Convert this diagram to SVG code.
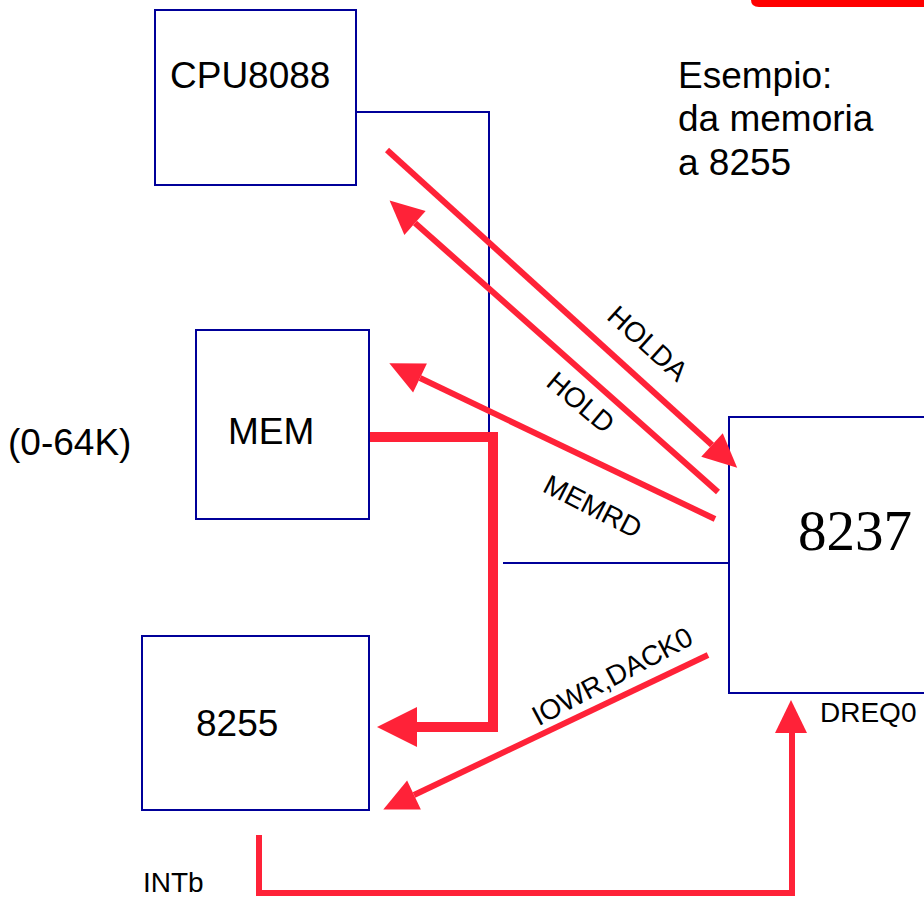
<svg xmlns="http://www.w3.org/2000/svg" width="924" height="900" viewBox="0 0 924 900">
<style>
.box{fill:#fff;stroke:#000099;stroke-width:2}
.bl{fill:none;stroke:#000099;stroke-width:2}
.rd{fill:none;stroke:#FF2238;stroke-width:6}
.t{font-family:"Liberation Sans",Arial,sans-serif;fill:#000}
.lbl{font-family:"Liberation Sans",Arial,sans-serif;font-size:28px;fill:#000;text-anchor:middle}
</style>
<defs>
<marker id="ah" markerUnits="userSpaceOnUse" markerWidth="40" markerHeight="40" refX="0" refY="16" orient="auto" overflow="visible">
<path d="M0,0 L34,16 L0,32 z" fill="#FF2238"/>
</marker>
</defs>
<rect width="924" height="900" fill="#fff"/>
<path d="M751,0 H924 V7 H759 Q751,7 751,0 z" fill="#FF0000"/>

<g id="cpu"><rect class="box" x="155" y="10" width="201" height="175"/><text class="t" x="170" y="88" font-size="37">CPU8088</text></g>
<g id="mem"><rect class="box" x="196" y="330" width="173" height="189"/><text class="t" x="228" y="444" font-size="37">MEM</text></g>
<g id="p8255"><rect class="box" x="142" y="636" width="227" height="174"/><text class="t" x="196" y="736" font-size="37">8255</text></g>
<g id="dma"><rect class="box" x="729" y="417" width="200" height="276"/><text x="798" y="550" font-family="'Liberation Serif','Times New Roman',serif" font-size="57">8237</text></g>

<g id="notes">
<text class="t" x="678" y="88" font-size="37">Esempio:</text>
<text class="t" x="678" y="131" font-size="37">da memoria</text>
<text class="t" x="678" y="175" font-size="37">a 8255</text>
<text class="t" x="8" y="455" font-size="37">(0-64K)</text>
<text class="t" x="820" y="722" font-size="28">DREQ0</text>
<text class="t" x="143" y="892" font-size="28">INTb</text>
</g>

<g id="connectors">
<path class="bl" d="M356,112 H489 V446"/>
<path class="bl" d="M503,563 H729"/>
<line class="rd" x1="387" y1="150" x2="712" y2="445" marker-end="url(#ah)"/>
<line class="rd" x1="718" y1="492" x2="415" y2="223" marker-end="url(#ah)"/>
<line class="rd" x1="715" y1="519" x2="420" y2="378" marker-end="url(#ah)"/>
<line class="rd" x1="708" y1="655" x2="414" y2="795" marker-end="url(#ah)"/>
<path d="M370,437 H493 V727 H415" fill="none" stroke="#FF2238" stroke-width="10"/>
<polygon points="377,727 417,707 417,747" fill="#FF2238"/>
<path class="rd" d="M259,835 V893 H792 V731"/>
<polygon points="791,700 775,733 807,733" fill="#FF2238"/>
<text class="lbl" transform="translate(648,343) rotate(42)" dy="10">HOLDA</text>
<text class="lbl" transform="translate(581,402) rotate(40)" dy="10">HOLD</text>
<text class="lbl" transform="translate(593,506) rotate(27)" dy="10">MEMRD</text>
<text class="lbl" transform="translate(612,676) rotate(-28)" dy="10">IOWR,DACK0</text>
</g>
</svg>
